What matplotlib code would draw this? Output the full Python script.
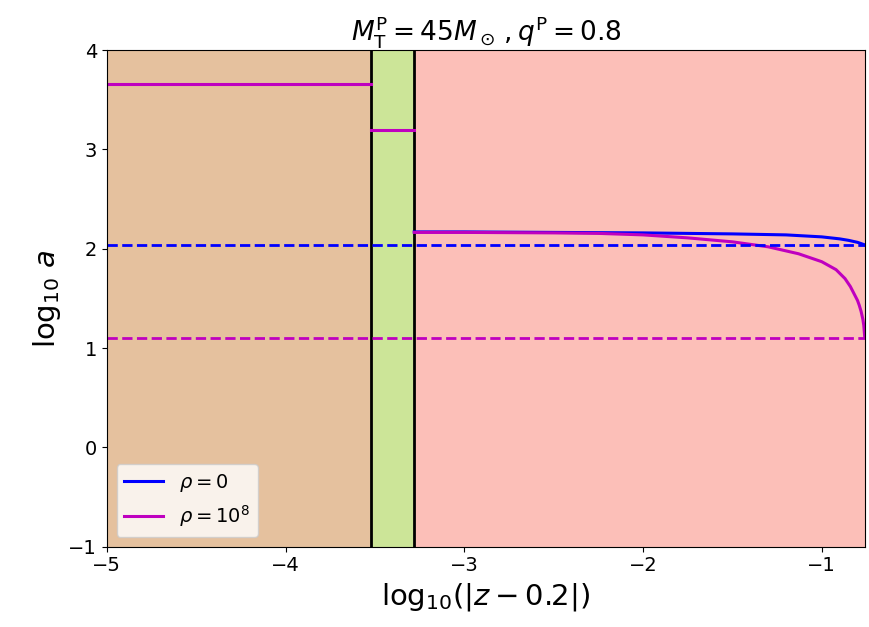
import numpy as np
import matplotlib.pyplot as plt

# x = log10(|z - 0.2|), y = log10 a
x_min, x_max = -5.0, -0.76
x_edges = [-3.52, -3.28]  # region boundaries

# rho = 0 curve (right region)
x_rho0 = [-3.28, -3.0, -2.5, -2.0, -1.5, -1.2, -1.0, -0.9, -0.85, -0.8, -0.76]
y_rho0 = [2.17, 2.17, 2.165, 2.16, 2.15, 2.14, 2.12, 2.10, 2.085, 2.065, 2.04]

# rho = 1e8 curve (right region)
x_rho8 = [-3.28, -3.0, -2.5, -2.25, -2.0, -1.75, -1.5, -1.3, -1.13, -1.0,
          -0.92, -0.87, -0.84, -0.82, -0.80, -0.79, -0.78, -0.77, -0.765, -0.76]
y_rho8 = [2.165, 2.165, 2.16, 2.155, 2.14, 2.11, 2.07, 2.02, 1.95, 1.87,
          1.79, 1.70, 1.62, 1.55, 1.48, 1.43, 1.37, 1.29, 1.23, 1.12]

# rho = 1e8 constant values in left and middle regions
y_rho8_left = 3.66
y_rho8_mid = 3.20

# dashed reference levels
y_ref_rho0 = 2.04
y_ref_rho8 = 1.10

fig = plt.figure(figsize=(8.69, 6.27), dpi=100)
ax = fig.add_axes([0.123, 0.128, 0.872, 0.792])

ax.axvspan(x_min, x_edges[0], color='peru', alpha=0.5, lw=0)
ax.axvspan(x_edges[0], x_edges[1], color='yellowgreen', alpha=0.5, lw=0)
ax.axvspan(x_edges[1], x_max, color='salmon', alpha=0.5, lw=0)
for xe in x_edges:
    ax.axvline(xe, color='k', lw=2)

ax.plot(x_rho0, y_rho0, color='b', lw=2.2, label=r'$\rho = 0$')
ax.plot(x_rho8, y_rho8, color='m', lw=2.2, label=r'$\rho = 10^8$')
ax.plot([x_min, x_edges[0]], [y_rho8_left, y_rho8_left], color='m', lw=2.2)
ax.plot([x_edges[0], x_edges[1]], [y_rho8_mid, y_rho8_mid], color='m', lw=2.2)

ax.axhline(y_ref_rho0, color='b', ls='--', lw=2)
ax.axhline(y_ref_rho8, color='m', ls='--', lw=2)

ax.set_xlim(x_min, x_max)
ax.set_ylim(-1, 4)
ax.set_xticks([-5, -4, -3, -2, -1])
ax.set_yticks([-1, 0, 1, 2, 3, 4])
ax.tick_params(labelsize=14)
ax.set_xlabel(r'$\mathrm{log}_{10}(|z-0.2|)$', fontsize=21)
ax.set_ylabel(r'$\mathrm{log}_{10}\ a$', fontsize=21)
ax.set_title(r'$M_{\rm T}^{\rm P} = 45 M_\odot\,, q^{\rm P} = 0.8$', fontsize=19)
ax.legend(loc='lower left', fontsize=14)

fig.savefig('out.png', dpi=100)
